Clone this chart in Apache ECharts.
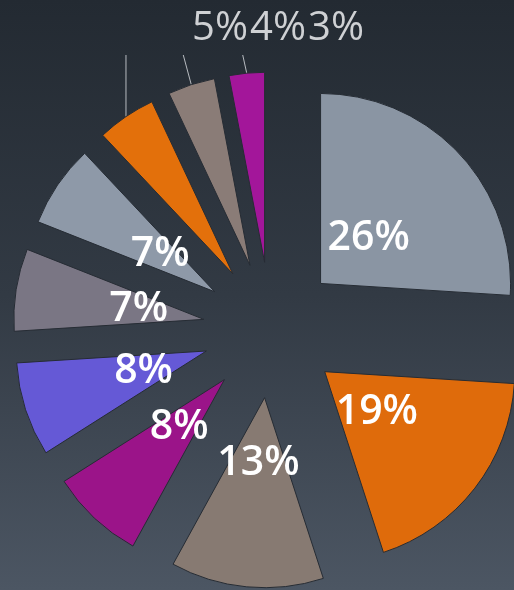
<!DOCTYPE html>
<html><head><meta charset="utf-8">
<script src="https://cdn.jsdelivr.net/npm/echarts@6/dist/echarts.min.js"></script>
<style>html,body{margin:0;padding:0;background:#2a313a}#c{width:514px;height:590px}</style>
</head><body><div id="c"></div>
<script>
// ---- data ----
const categories = ['Cat 1','Cat 2','Cat 3','Cat 4','Cat 5','Cat 6','Cat 7','Cat 8','Cat 9','Cat 10'];
const shares = [26, 19, 13, 8, 8, 7, 7, 5, 4, 3];
const sliceColors = ['#8a95a3','#df6b0b','#877a72','#9b1489','#6559d6','#7a7684','#8e99a8','#e3700b','#8a7c77','#a3169a'];
const outsideLabelIdx = [7, 8, 9];

// ---- styling ----
const CENTER = [271, 330];
const RADIUS = 190;
const OFFSET = 68;          // explode distance of every slice
const LABEL_PULL = 32;      // inside labels sit closer to the tip
const TOP_LABEL_Y = 29, TOP_LABEL_X0 = 220, TOP_LABEL_STEP = 58, LINE_TOP_Y = 55;
const LINE_TILT = [0, -8, -4];

const total = shares.reduce((a, b) => a + b, 0);
const midAngles = [];
let acc = 0;
shares.forEach(v => { midAngles.push((acc + v / 2) / total * 2 * Math.PI); acc += v; });

const chart = echarts.init(document.getElementById('c'), null, {renderer: 'canvas'});

const series = shares.map((_, i) => {
  const a = midAngles[i];
  const outside = outsideLabelIdx.indexOf(i) >= 0;
  const k = outsideLabelIdx.indexOf(i);
  return {
    type: 'pie', silent: true, animation: false,
    center: [CENTER[0] + OFFSET * Math.sin(a), CENTER[1] - OFFSET * Math.cos(a)],
    radius: RADIUS, startAngle: 90, clockwise: true,
    avoidLabelOverlap: false,
    emphasis: {disabled: true},
    label: outside
      ? {position: 'outside', formatter: '{c}%', color: '#cfd1d4', fontSize: 40, fontFamily: 'Open Sans', fontWeight: 'normal'}
      : {position: 'inside', formatter: '{c}%', color: '#ffffff', fontSize: 41, fontFamily: 'Open Sans', fontWeight: 600},
    labelLine: {show: outside, length: 20, length2: 0, lineStyle: {color: '#b7bbc0', width: 1}},
    labelLayout: function (p) {
      if (p.dataIndex !== i) return {hideOverlap: false};
      if (!outside) {
        return {hideOverlap: false, dx: -LABEL_PULL * Math.sin(a), dy: LABEL_PULL * Math.cos(a)};
      }
      const res = {hideOverlap: false, x: TOP_LABEL_X0 + k * TOP_LABEL_STEP, y: TOP_LABEL_Y, align: 'center', verticalAlign: 'middle'};
      const pts = p.labelLinePoints;
      if (pts && pts.length) res.labelLinePoints = [pts[0].slice(), [pts[0][0] + LINE_TILT[k], LINE_TOP_Y]];
      return res;
    },
    data: shares.map((v, j) => ({
      name: categories[j], value: v,
      itemStyle: j === i ? {color: sliceColors[j], borderColor: '#262c34', borderWidth: 1}
                         : {color: 'rgba(0,0,0,0)', borderWidth: 0},
      label: {show: j === i},
      labelLine: {show: j === i && outside}
    }))
  };
});

chart.setOption({
  animation: false,
  backgroundColor: {type: 'linear', x: 0, y: 0, x2: 0, y2: 1,
    colorStops: [{offset: 0, color: '#232a32'}, {offset: 0.5, color: '#323a44'}, {offset: 1, color: '#4c5663'}]},
  series: series
});
</script></body></html>
